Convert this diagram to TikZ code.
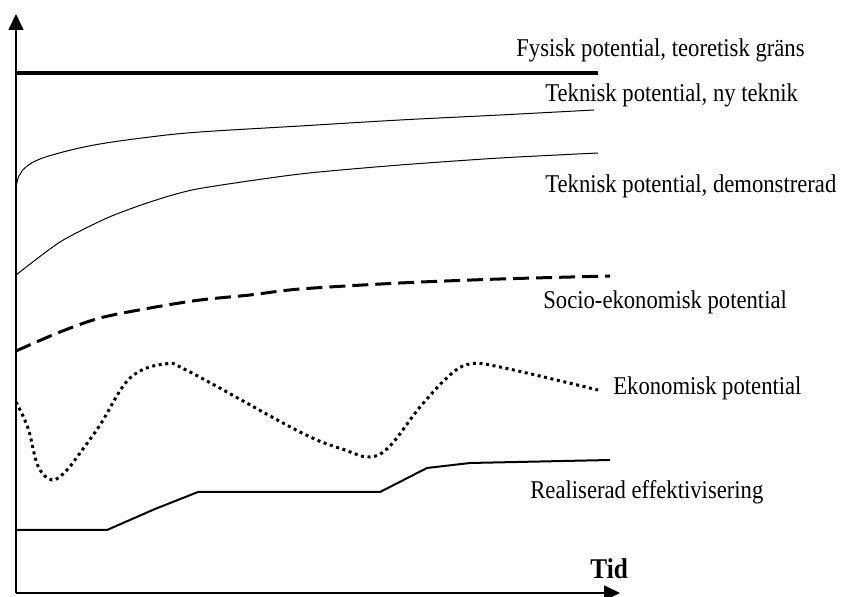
\documentclass[tikz,border=0pt]{standalone}
\usepackage{fontspec}
\setmainfont{Liberation Serif}
\usetikzlibrary{arrows.meta}

\begin{document}
\begin{tikzpicture}[x=0.5pt, y=-0.5pt,
  axis/.style={line width=0.85pt, -{Triangle[length=8pt,width=7.5pt]}},
  lbl/.style={anchor=base west, inner sep=0pt, font=\fontsize{12.8}{15}\selectfont, xscale=0.885, transform shape},
  thincurve/.style={line width=0.5pt}]
\useasboundingbox (0,0) rectangle (841,597);

% axes
\coordinate (origin) at (16,593);
\coordinate (ytop) at (16,14);
\coordinate (xend) at (620,593);
\draw[axis] (origin) -- (ytop);
\draw[axis] (origin) -- (xend);

% potential curves
\draw[line width=2pt] (16,73) -- (598,73);
\draw[thincurve] plot[smooth, tension=0.6] coordinates {(16,187) (19,176) (26,167) (40,159) (67,151) (100,144) (150,137) (200,132) (300,126) (400,120) (500,115) (594,110)};
\draw[thincurve] plot[smooth, tension=0.4] coordinates {(16,275) (60,242) (107,218) (150,202) (197,189) (300,174) (400,165) (500,158) (598,153)};
\draw[line width=1.5pt, dash pattern=on 8pt off 3.5pt] plot[smooth, tension=0.5] coordinates {(16,351) (60,332) (100,318) (150,308) (200,300) (250,295) (300,289) (400,283) (500,279) (610,276)};
\draw[line width=1.5pt, dash pattern=on 1.5pt off 1.8pt] plot[smooth, tension=0.6] coordinates {(16,402) (28,428) (38,466) (52,480) (66,471) (80,453) (100,425) (130,378) (165,364) (190,372) (300,432) (345,450) (370,457) (390,446) (420,407) (450,375) (470,364) (500,367) (598,390)};
\draw[line width=1pt] (16,530) -- (107,530) -- (155,509) -- (198,492) -- (380,492) -- (427,468) -- (470,463) -- (610,460);

% labels
\node[lbl] (fysisk) at (516,57) {Fysisk potential, teoretisk gräns};
\node[lbl] (nyteknik) at (545,102) {Teknisk potential, ny teknik};
\node[lbl] (demo) at (545,193) {Teknisk potential, demonstrerad};
\node[lbl] (socio) at (543,309) {Socio-ekonomisk potential};
\node[lbl] (ekonomisk) at (613,395) {Ekonomisk potential};
\node[lbl] (realiserad) at (530,499) {Realiserad effektivisering};
\node[lbl, font=\bfseries\fontsize{14.3}{16}\selectfont] (tid) at (590,579) {Tid};
\end{tikzpicture}
\end{document}
